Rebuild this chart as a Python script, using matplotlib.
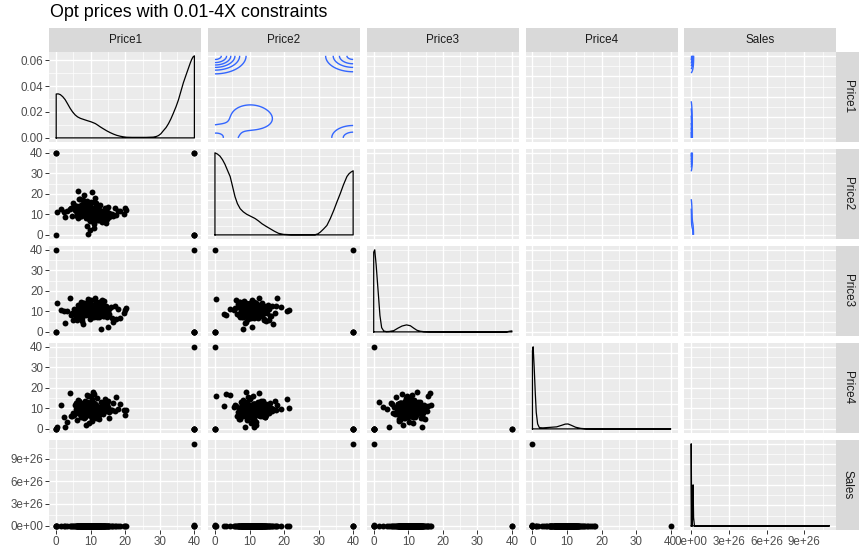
import numpy as np
import matplotlib
matplotlib.use("Agg")
import matplotlib.pyplot as plt

plt.rcParams['font.family'] = ['Liberation Sans', 'DejaVu Sans']

TITLE = "Opt prices with 0.01-4X constraints"
VARS = ["Price1", "Price2", "Price3", "Price4", "Sales"]

# ---------------- interior observations ----------------
p1 = [9.2, 11.5, 7.8, 13.1, 5.6, 10.4, 8.7, 12.9, 6.3, 9.9,
      14.2, 7.1, 10.8, 8.2, 11.9, 4.8, 9.5, 12.3, 6.9, 10.1,
      15.3, 8.9, 11.2, 7.5, 13.8, 9.7, 5.2, 10.6, 12.1, 8.4,
      16.4, 9.1, 6.6, 11.7, 10.3, 7.9, 14.6, 8.6, 12.6, 9.4,
      3.9, 10.9, 13.4, 7.3, 11.1, 9.8, 17.2, 8.1, 10.2, 6.1,
      12.4, 9.3, 15.8, 7.7, 11.4, 10.7, 4.4, 13.2, 8.8, 9.6,
      18.5, 7.2, 10.5, 12.7, 8.3, 14.9, 9.0, 6.8, 11.6, 10.0,
      2.3, 13.6, 8.5, 11.3, 19.6, 9.1, 5.9, 12.2, 7.6, 10.9,
      16.9, 8.0, 13.0, 9.7, 0.3, 11.8, 6.4, 14.1, 10.4, 7.4,
      20.3, 9.9, 12.0, 3.1, 11.0, 8.6, 15.1, 10.2, 1.4, 13.5,
      9.3, 17.8, 6.0, 11.4, 8.9, 19.9, 2.5, 7.0, 10.6, 14.4,
      8.1, 10.6, 12.5, 6.7, 9.4, 11.0, 7.9, 13.3, 9.0, 10.3,
      5.4, 12.1, 8.7, 10.9, 14.8, 7.5, 11.5, 9.6, 6.2, 12.9,
      10.1, 8.3, 16.2, 9.8, 11.7, 4.6, 10.5, 13.9, 7.8, 9.2,
      11.3, 8.9, 12.3, 10.8, 6.9, 14.0, 9.5, 11.9, 8.4, 10.0,
      10.7, 7.3, 12.0, 9.1, 8.5, 11.2, 6.4, 13.7, 9.8, 10.4,
      8.0, 11.8, 7.6, 12.6, 9.3, 10.9, 5.8, 14.3, 8.8, 11.5,
      9.6, 12.4, 7.1, 10.2, 13.0, 8.3, 11.0, 9.9, 6.8, 12.2,
      10.5, 8.6, 15.2, 9.4, 11.6, 7.7, 10.0, 13.4, 8.9, 10.8]
p2 = [10.3, 8.6, 12.1, 9.4, 11.8, 7.2, 13.5, 10.9, 8.1, 14.2,
      9.7, 11.3, 6.5, 12.8, 10.1, 15.6, 8.8, 11.9, 13.1, 7.9,
      10.6, 16.4, 9.2, 12.5, 8.4, 11.1, 14.8, 6.9, 10.4, 13.7,
      9.0, 12.2, 17.3, 8.3, 11.5, 10.0, 7.6, 13.9, 9.8, 15.1,
      12.7, 5.4, 10.8, 14.5, 8.7, 11.7, 9.5, 19.2, 12.4, 10.2,
      7.1, 13.3, 9.9, 16.8, 11.0, 8.9, 12.9, 6.2, 14.0, 10.5,
      11.4, 9.3, 20.8, 7.8, 12.6, 10.7, 4.3, 13.6, 9.1, 15.9,
      11.2, 8.5, 12.0, 18.1, 10.3, 9.6, 14.3, 7.4, 11.6, 3.2,
      13.0, 10.9, 8.2, 12.3, 11.3, 9.4, 21.3, 10.1, 6.7, 14.7,
      12.1, 2.6, 9.7, 11.8, 16.1, 8.0, 13.4, 10.6, 12.8, 7.0,
      0.3, 11.5, 9.2, 15.3, 10.0, 13.2, 8.6, 17.7, 11.1, 5.8,
      9.8, 11.4, 8.2, 12.6, 10.5, 7.7, 13.2, 9.1, 11.9, 10.2,
      12.3, 8.8, 14.1, 9.6, 11.0, 10.7, 7.3, 12.9, 9.9, 11.6,
      8.5, 13.8, 10.4, 6.6, 12.0, 9.3, 11.2, 8.0, 15.0, 10.9,
      9.5, 12.4, 7.9, 11.3, 10.0, 13.1, 8.9, 10.6, 14.4, 9.2,
      11.6, 9.0, 12.9, 8.5, 10.9, 13.4, 9.7, 11.2, 7.6, 12.2,
      10.4, 8.3, 11.8, 14.6, 9.4, 10.1, 12.5, 8.7, 11.0, 13.0,
      7.9, 10.6, 12.1, 9.2, 11.4, 15.5, 8.1, 10.8, 12.7, 9.9,
      11.3, 13.6, 8.6, 10.2, 9.6, 12.0, 11.1, 7.4, 10.7, 13.3]
p3 = [9.6, 11.2, 8.1, 12.7, 10.3, 7.4, 13.9, 9.0, 11.8, 6.2,
      10.7, 14.6, 8.5, 12.1, 9.3, 5.7, 11.5, 10.0, 7.9, 13.3,
      8.8, 12.4, 10.9, 6.8, 15.2, 9.7, 11.0, 8.3, 13.6, 10.5,
      4.9, 12.0, 9.1, 11.7, 7.2, 14.1, 10.2, 8.6, 12.9, 9.4,
      16.3, 10.8, 7.6, 11.3, 9.9, 13.0, 6.4, 12.2, 8.9, 10.6,
      14.8, 9.2, 11.9, 3.8, 10.1, 12.6, 8.0, 15.7, 9.5, 11.4,
      7.0, 13.4, 10.4, 8.7, 12.3, 2.6, 11.1, 9.8, 14.3, 7.7,
      10.0, 12.8, 8.4, 16.6, 9.3, 11.6, 6.0, 13.1, 10.7, 8.2,
      12.5, 9.0, 1.4, 11.3, 14.0, 7.3, 10.9, 9.6, 12.0, 5.3,
      11.8, 8.8, 13.7, 10.2, 7.8, 12.4, 9.4, 15.4, 10.6, 8.5,
      15.8, 11.0, 7.5, 13.2, 9.1, 10.8, 4.5, 12.7, 9.9, 11.5,
      10.4, 8.9, 12.2, 9.7, 11.5, 7.8, 10.9, 13.1, 9.2, 11.9,
      8.4, 10.6, 12.8, 9.9, 7.1, 11.2, 14.4, 10.1, 8.7, 12.5,
      9.4, 11.1, 6.6, 13.5, 10.8, 9.0, 12.0, 8.2, 11.6, 10.3,
      13.8, 9.6, 7.4, 11.7, 10.0, 8.6, 12.9, 9.3, 11.3, 10.7,
      9.8, 11.6, 8.3, 12.4, 10.1, 9.0, 13.0, 7.9, 11.1, 10.6,
      12.1, 9.4, 8.6, 11.4, 13.6, 10.3, 7.7, 12.6, 9.2, 10.9,
      11.8, 8.1, 10.5, 12.9, 9.6, 11.3, 7.3, 10.0, 13.3, 8.8,
      12.2, 9.9, 11.0, 8.4, 10.7, 14.2, 9.5, 11.9, 10.2, 8.0]
p4 = [9.4, 6.6, 12.7, 8.2, 9.8, 5.0, 11.3, 8.6, 14.1, 7.3,
      10.4, 11.6, 6.4, 9.1, 14.9, 7.7, 11.0, 6.9, 9.6, 13.3,
      5.4, 8.9, 12.2, 7.5, 10.7, 15.8, 6.8, 10.0, 8.5, 6.1,
      12.4, 8.3, 13.6, 11.2, 3.9, 9.3, 13.0, 7.2, 10.2, 8.0,
      17.7, 10.9, 8.7, 5.6, 11.8, 8.4, 15.3, 9.5, 7.4, 11.4,
      4.7, 12.5, 9.0, 9.9, 7.8, 18.0, 6.3, 11.1, 9.2, 2.8,
      12.1, 7.6, 14.4, 9.7, 7.0, 10.5, 16.6, 8.8, 8.1, 12.8,
      5.9, 10.1, 1.7, 11.5, 9.4, 6.7, 10.8, 9.8, 7.9, 17.2,
      8.6, 5.2, 13.2, 10.6, 1.1, 8.2, 10.3, 14.6, 6.5, 11.9,
      9.1, 11.3, 5.5, 3.4, 10.0, 7.7, 13.8, 8.5, 11.7, 7.1,
      16.2, 9.6, 4.3, 8.3, 9.9, 6.7, 0.9, 9.0, 6.2, 11.7,
      7.6, 10.4, 8.7, 10.8, 7.3, 12.6, 8.1, 9.5, 9.2, 5.8,
      11.4, 8.4, 10.1, 7.0, 12.3, 8.9, 5.1, 10.5, 7.8, 9.7,
      6.5, 13.5, 9.4, 8.0, 10.9, 6.4, 9.8, 8.5, 11.6, 7.4,
      9.1, 12.9, 7.7, 8.8, 7.1, 10.6, 7.9, 10.3, 5.7, 12.0,
      8.8, 10.9, 7.9, 9.6, 11.4, 8.4, 10.1, 12.2, 7.5, 9.3,
      10.7, 8.1, 11.7, 9.0, 7.2, 10.4, 12.7, 8.6, 9.8, 11.0,
      7.8, 10.3, 9.1, 13.1, 8.3, 9.9, 11.2, 7.0, 10.6, 8.9,
      12.0, 9.4, 8.0, 10.0, 11.6, 7.6, 9.7, 10.8, 8.5, 11.3]
sales_e22 = [3, 1, 4, 1, 5, 9, 2, 6, 5, 3, 5, 8, 9, 7, 9, 3, 2, 3, 8, 4,
             6, 2, 6, 4, 3, 3, 8, 3, 2, 7, 9, 5, 0, 2, 8, 8, 4, 1, 9, 7,
             1, 6, 9, 3, 9, 9, 3, 7, 5, 1, 0, 5, 8, 2, 0, 9, 7, 4, 9, 4,
             4, 5, 9, 2, 3, 0, 7, 8, 1, 6, 4, 0, 6, 2, 8, 6, 2, 0, 8, 9,
             9, 8, 6, 2, 8, 0, 3, 4, 8, 2, 5, 3, 4, 2, 1, 1, 7, 0, 6, 7,
             9, 8, 2, 1, 4, 8, 0, 8, 6, 5, 1, 3, 2, 8, 2, 3, 0, 6, 6, 4,
             7, 0, 9, 3, 8, 4, 4, 6, 0, 9, 5, 5, 0, 5, 8, 2, 2, 3, 1, 7,
             2, 5, 3, 5, 9, 4, 0, 8, 1, 2, 6, 2, 6, 4, 3, 3, 8, 3, 2, 7,
             9, 5, 0, 2, 8, 8, 4, 1, 9, 7, 1, 6, 9, 3, 9, 9, 3, 7, 5, 1,
             0, 5, 8, 2, 0, 9, 7, 4, 9, 4]

# ---------------- observations sitting at the bounds ----------------
bound_p1 = [40, 40, 0, 0, 40, 0, 40, 40]
bound_p2 = [0, 40, 40, 0, 40, 40, 0, 0]
bound_p3 = [0, 0, 0, 0, 0, 40, 0, 40]
bound_p4 = [0, 0, 0, 0, 0, 0, 40, 0]
bound_sales = [1.5e25, 0, 0, 0, 1.1e27, 0, 0, 0]
bound_count = [487, 324, 181, 166, 1, 1, 1, 1]

# ---------------- diagonal densities ----------------
dens_x_p1 = [0, 0.6, 1.2, 1.9, 2.6, 3.3, 4.0, 4.7, 5.5, 6.2, 7.0, 8.0, 8.9, 10.1,
             11.3, 12.0, 12.7, 13.6, 14.6, 15.6, 16.6, 17.5, 18.5, 19.5, 20.4, 22,
             24, 26, 28.1, 29.0, 29.6, 30.3, 31.0, 31.8, 32.5, 33.2, 33.9, 34.7,
             35.4, 36.1, 36.8, 37.6, 38.3, 38.8, 39.2, 39.6, 40]
dens_p1 = [0.0339, 0.0340, 0.0334, 0.0318, 0.0295, 0.0263, 0.0230, 0.0202, 0.0177,
           0.0162, 0.0151, 0.0142, 0.0134, 0.0124, 0.0111, 0.0099, 0.0086, 0.0071,
           0.0055, 0.0041, 0.0029, 0.0020, 0.0013, 0.0008, 0.0005, 0.0004, 0.0004,
           0.0004, 0.0006, 0.0011, 0.0018, 0.0032, 0.0055, 0.0080, 0.0110, 0.0147,
           0.0190, 0.0242, 0.0295, 0.0360, 0.0425, 0.0487, 0.0540, 0.0578, 0.0605,
           0.0625, 0.0634]
dens_x_p2 = [0, 0.7, 1.45, 2.2, 2.9, 3.6, 4.4, 5.1, 5.8, 6.5, 7.3, 8.2, 9.2, 10.4,
             11.6, 12.6, 13.6, 14.8, 16.0, 17.2, 18.4, 19.8, 22, 25, 29.0, 29.8,
             30.5, 31.4, 32.4, 33.4, 34.4, 35.3, 36.3, 37.2, 38.2, 38.8, 39.4, 40]
dens_p2 = [0.0470, 0.0463, 0.0451, 0.0430, 0.0404, 0.0371, 0.0334, 0.0277, 0.0219,
           0.0179, 0.0150, 0.0132, 0.0118, 0.0106, 0.0094, 0.0080, 0.0064, 0.0049,
           0.0035, 0.0021, 0.0009, 0.0003, 0.0001, 0.0001, 0.0001, 0.0006, 0.0016,
           0.0033, 0.0054, 0.0094, 0.0141, 0.0188, 0.0238, 0.0287, 0.0334, 0.0350,
           0.0360, 0.0367]
dens_x_p3 = [0, 0.3, 0.7, 1.0, 1.4, 1.8, 2.3, 2.9, 3.6, 4.5, 5.8, 7.0, 8.2, 9.5,
             10.6, 11.6, 12.5, 13.5, 14.5, 16.0, 30.0, 38.5, 39.3, 40]
dens_p3 = [0.340, 0.350, 0.287, 0.228, 0.150, 0.070, 0.018, 0.004, 0.0014, 0.0018,
           0.0053, 0.0158, 0.0250, 0.0298, 0.0263, 0.0158, 0.0070, 0.0028, 0.0010,
           0.0004, 0.0, 0.0, 0.0028, 0.0042]
dens_x_p4 = [0, 0.2, 0.5, 0.8, 1.1, 1.5, 2.0, 3.0, 5.0, 7.0, 8.5, 9.5, 10.3, 11.2,
             12.5, 14.0, 15.5, 20.0, 40.0]
dens_p4 = [0.618, 0.650, 0.488, 0.293, 0.130, 0.039, 0.010, 0.008, 0.012, 0.016,
           0.029, 0.038, 0.039, 0.029, 0.013, 0.004, 0.0007, 0.0, 0.0]
dens_x_sales = [0, 4e24, 8e24, 1.1e25, 1.5e25, 1.9e25, 2.6e25, 1.1e27]
dens_sales = [1.0, 0.02, 0.0, 0.10, 0.50, 0.10, 0.0, 0.0]   # units of 1e-26

price_ticks = [0, 10, 20, 30, 40]
price_labels = ["0", "10", "20", "30", "40"]
sales_ticks = [0, 3e26, 6e26, 9e26]
sales_labels = ["0e+00", "3e+26", "6e+26", "9e+26"]

N_LEVELS = 6   # contour levels below the peak

# ---------------- assemble ----------------
cols = [np.array(p1 + bound_p1, float), np.array(p2 + bound_p2, float),
        np.array(p3 + bound_p3, float), np.array(p4 + bound_p4, float),
        np.concatenate([np.array(sales_e22, float) * 1e22, np.array(bound_sales, float)])]
wts = np.concatenate([np.ones(len(p1)), np.array(bound_count, float)])
diag = [(dens_x_p1, dens_p1), (dens_x_p2, dens_p2), (dens_x_p3, dens_p3),
        (dens_x_p4, dens_p4), (dens_x_sales, dens_sales)]
var_ticks = [price_ticks] * 4 + [sales_ticks]
var_labels = [price_labels] * 4 + [sales_labels]


def expand(lo, hi):
    d = (hi - lo) * 0.05
    return lo - d, hi + d


def minors(major, lo, hi):
    major = list(major)
    st = major[1] - major[0]
    m = [major[0] - st / 2] + [a + st / 2 for a in major]
    return [v for v in m if lo <= v <= hi]


def nice_breaks(lo, hi, target=5):
    span = hi - lo
    base = 10 ** np.floor(np.log10(span))
    best, bscore = None, None
    for k in (1, 0.1, 0.01):
        for m in (5, 2.5, 2, 1):
            st = m * base * k
            t = np.arange(np.ceil(lo / st - 1e-9), np.floor(hi / st + 1e-9) + 1) * st
            sc = abs(len(t) - target)
            if bscore is None or sc < bscore:
                best, bscore = (t, st), sc
    return best


def bw_nrd(x):
    q1, q3 = np.quantile(x, [0.25, 0.75])
    sd = np.std(x, ddof=1)
    return 4 * 1.06 * min(sd, (q3 - q1) / 1.34) * len(x) ** (-0.2)


def kde2d(x, y, wt, hx, hy, gx, gy):
    sx, sy = hx / 4, hy / 4
    kx = np.exp(-0.5 * ((gx[:, None] - x[None, :]) / sx) ** 2)
    ky = np.exp(-0.5 * ((gy[:, None] - y[None, :]) / sy) ** 2)
    z = (ky * wt[None, :]) @ kx.T
    return z / (wt.sum() * 2 * np.pi * sx * sy)


rep = wts.astype(int)
bws = [bw_nrd(np.repeat(c, rep)) for c in cols]
lims = [expand(c.min(), c.max()) for c in cols]

# ---------------- layout (pixels) ----------------
W, H = 861, 548
col_left = [49.3 + 158.75 * i for i in range(5)]
row_top = [51.7 + 97.0 * i for i in range(5)]
PW, PH = 152.0, 90.3
STRIP_H = 23.4
RSTRIP_W = 22.4

fig = plt.figure(figsize=(W / 100, H / 100), dpi=100, facecolor='white')


def px_axes(left, top, w, h):
    return fig.add_axes([left / W, 1 - (top + h) / H, w / W, h / H])


LINE_BLUE = '#3366FF'

for r in range(5):
    for c in range(5):
        ax = px_axes(col_left[c], row_top[r], PW, PH)
        ax.set_facecolor('#EBEBEB')
        for s in ax.spines.values():
            s.set_visible(False)
        xlo, xhi = lims[c]
        ax.set_xlim(xlo, xhi)
        ax.set_xticks(var_ticks[c])
        ax.set_xticks(minors(var_ticks[c], xlo, xhi), minor=True)
        if r == c:
            dx, dy = diag[r]
            ylo, yhi = expand(0, max(dy))
            ymaj, st = nice_breaks(ylo, yhi)
            ymaj = np.round(ymaj, 10) + 0.0
            ax.set_ylim(ylo, yhi)
            ax.set_yticks(ymaj)
            ax.set_yticks(minors(ymaj, ylo, yhi), minor=True)
            nd = max(0, int(-np.floor(np.log10(st) + 1e-9)))
            ylabels = [f"{abs(v) if abs(v) < 1e-12 else v:.{nd}f}" for v in ymaj]
            xs = [dx[0]] + list(dx) + [dx[-1], dx[0]]
            ys = [0] + list(dy) + [0, 0]
            ax.plot(xs, ys, color='black', lw=0.9, solid_joinstyle='round')
        else:
            ylo, yhi = lims[r]
            ax.set_ylim(ylo, yhi)
            ax.set_yticks(var_ticks[r])
            ax.set_yticks(minors(var_ticks[r], ylo, yhi), minor=True)
            ylabels = var_labels[r]
            if r > c:
                ax.scatter(cols[c], cols[r], s=18, color='black', linewidths=0,
                           zorder=3, clip_on=True)
            elif bws[c] > 0 and bws[r] > 0:
                gx = np.linspace(cols[c].min(), cols[c].max(), 100)
                gy = np.linspace(cols[r].min(), cols[r].max(), 100)
                z = kde2d(cols[c], cols[r], wts, bws[c], bws[r], gx, gy)
                lv = z.max() * np.arange(1, N_LEVELS + 1) / (N_LEVELS + 0.5)
                ax.contour(gx, gy, z, levels=lv, colors=LINE_BLUE, linewidths=1.0)
        ax.set_axisbelow(True)
        ax.grid(which='major', color='white', linewidth=1.0)
        ax.grid(which='minor', color='white', linewidth=0.5)
        ax.tick_params(which='minor', length=0)
        ax.tick_params(which='major', length=2.7, width=0.7, color='#333333',
                       labelsize=8.4, labelcolor='#4D4D4D', pad=1.8)
        if c == 0:
            ax.set_yticklabels(ylabels)
        else:
            ax.tick_params(axis='y', length=0, labelleft=False)
        if r == 4:
            ax.set_xticklabels(var_labels[c])
        else:
            ax.tick_params(axis='x', length=0, labelbottom=False)

# strips
for c in range(5):
    sax = px_axes(col_left[c], row_top[0] - STRIP_H, PW, STRIP_H)
    sax.set_facecolor('#D9D9D9')
    sax.set_xticks([]); sax.set_yticks([])
    for s in sax.spines.values():
        s.set_visible(False)
    sax.text(0.5, 0.5, VARS[c], ha='center', va='center', fontsize=8.4,
             color='#1A1A1A', transform=sax.transAxes)
for r in range(5):
    sax = px_axes(col_left[4] + PW, row_top[r], RSTRIP_W, PH)
    sax.set_facecolor('#D9D9D9')
    sax.set_xticks([]); sax.set_yticks([])
    for s in sax.spines.values():
        s.set_visible(False)
    sax.text(0.5, 0.5, VARS[r], ha='center', va='center', fontsize=8.4,
             color='#1A1A1A', rotation=-90, transform=sax.transAxes)

fig.text(50 / W, 1 - 16.7 / H, TITLE, ha='left', va='baseline', fontsize=12.9,
         color='black')

fig.savefig('out.png', dpi=100, facecolor='white')
